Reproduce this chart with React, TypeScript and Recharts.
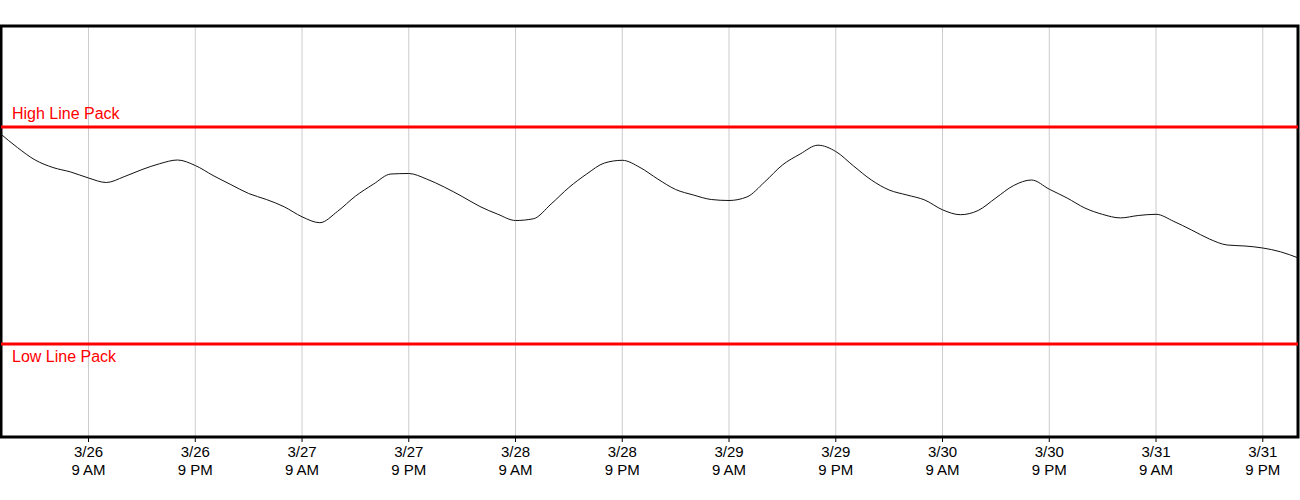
import React from 'react';
import { LineChart, Line, XAxis, YAxis, CartesianGrid, ReferenceLine, ReferenceArea } from 'recharts';

// line pack readings every 2 hours, first one at 3/25 11 PM (hour -1 from 3/26 00:00)
const startHour = -1;
const stepHours = 2;
const linePack = [
  304, 289.5, 277, 269.5, 265, 259, 254.5, 260.3, 267.4, 273.3, 277, 271.5, 261.5,
  252.4, 243.5, 237.5, 230.2, 220.2, 214.3, 225.7, 240.8, 252.7, 263, 263.5, 258,
  249.9, 240.5, 230.5, 222.8, 216.5, 218.2, 233, 249.5, 263, 274, 276.7, 269.5,
  257.9, 247.5, 242, 237.5, 236.5, 240, 255, 272, 283, 291.8, 285.5, 271, 257,
  247, 242, 237, 227.2, 222.3, 226.5, 239.1, 251.5, 257, 247.8, 239, 229, 222.6,
  219.1, 221.5, 222.7, 215.6, 207, 198, 192, 191, 189, 185.2, 179,
];

const highLinePack = 310;
const lowLinePack = 93;

// ticks: hours since 3/26 00:00 (9 AM / 9 PM)
const tickHours = [9, 21, 33, 45, 57, 69, 81, 93, 105, 117, 129, 141];
const xDomain = [-0.84, 144.96];
const yDomain = [0, 411];

const data = linePack.map((v, i) => ({ h: startHour + i * stepHours, v }));

const fmtDay = (h: number) => `3/${26 + Math.floor(h / 24)}`;
const fmtHour = (h: number) => {
  const hr = ((h % 24) + 24) % 24;
  const ampm = hr < 12 ? 'AM' : 'PM';
  const h12 = hr % 12 === 0 ? 12 : hr % 12;
  return `${h12} ${ampm}`;
};

const TimeTick = (props: any) => {
  const { x, y, payload } = props;
  return (
    <text x={x} y={y} textAnchor="middle" fill="#000" fontSize={15} fontFamily="'Liberation Sans', Arial, sans-serif">
      <tspan x={x} dy={13.5}>{fmtDay(payload.value)}</tspan>
      <tspan x={x} dy={18.5}>{fmtHour(payload.value)}</tspan>
    </text>
  );
};

const lineLabel = (text: string, dy: number) => (props: any) => {
  const vb = props.viewBox || { x: 0, y: 0 };
  return (
    <text x={vb.x + 11} y={vb.y + dy} fill="#ff0000" fontSize={16} fontFamily="'Liberation Sans', Arial, sans-serif">
      {text}
    </text>
  );
};

export default function App() {
  return (
    <div style={{ position: 'absolute', left: 0, top: 0, width: 1300, height: 500, background: '#fff' }}>
      <LineChart width={1300} height={500} data={data} margin={{ top: 26, right: 2, bottom: 0, left: 1 }}>
        <CartesianGrid horizontal={false} stroke="#cccccc" strokeWidth={1} />
        <XAxis
          dataKey="h"
          type="number"
          domain={xDomain}
          allowDataOverflow
          ticks={tickHours}
          interval={0}
          height={63}
          axisLine={false}
          tickLine={{ stroke: '#000', strokeWidth: 1 }}
          tickSize={5}
          tickMargin={1}
          tick={<TimeTick />}
        />
        <YAxis hide domain={yDomain} allowDataOverflow width={0} />
        <ReferenceLine y={highLinePack} stroke="#ff0000" strokeWidth={3} label={lineLabel('High Line Pack', -8)} />
        <ReferenceLine y={lowLinePack} stroke="#ff0000" strokeWidth={3} label={lineLabel('Low Line Pack', 17.5)} />
        <Line
          type="monotone"
          dataKey="v"
          stroke="#111"
          strokeWidth={1}
          dot={false}
          isAnimationActive={false}
        />
        <ReferenceArea
          x1={xDomain[0]}
          x2={xDomain[1]}
          y1={yDomain[0]}
          y2={yDomain[1]}
          stroke="#000"
          strokeWidth={3}
          fill="none"
          fillOpacity={0}
        />
      </LineChart>
    </div>
  );
}
